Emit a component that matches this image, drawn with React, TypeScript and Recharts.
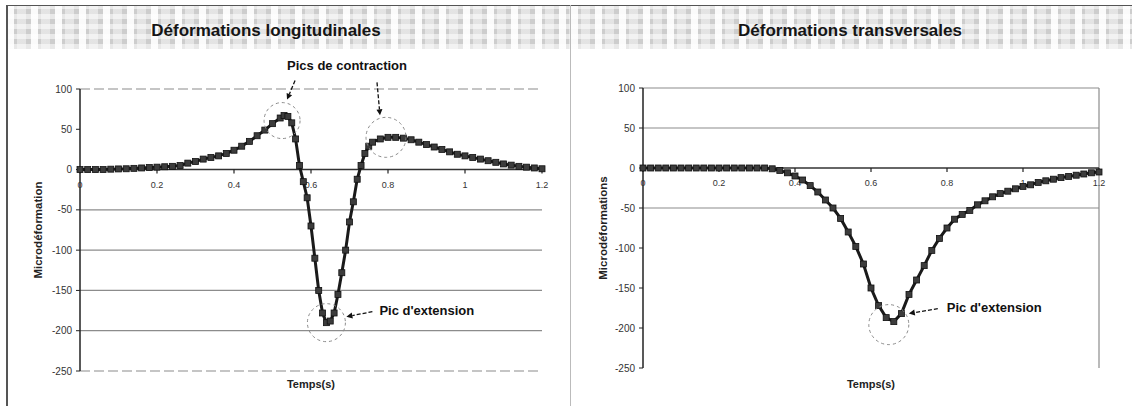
import React from 'react';
import { LineChart, Line, XAxis, YAxis, ReferenceLine, ReferenceDot } from 'recharts';

// ---------- data ----------
const timeLong = [0, 0.02, 0.04, 0.06, 0.08, 0.1, 0.12, 0.14, 0.16, 0.18, 0.2, 0.22, 0.24, 0.26, 0.28, 0.3, 0.32, 0.34, 0.36, 0.38, 0.4, 0.42, 0.44, 0.46, 0.48, 0.5, 0.52, 0.53, 0.54, 0.55, 0.56, 0.57, 0.58, 0.59, 0.6, 0.61, 0.62, 0.63, 0.64, 0.65, 0.66, 0.67, 0.68, 0.69, 0.7, 0.71, 0.72, 0.73, 0.74, 0.75, 0.76, 0.78, 0.8, 0.82, 0.84, 0.86, 0.88, 0.9, 0.92, 0.94, 0.96, 0.98, 1.0, 1.02, 1.04, 1.06, 1.08, 1.1, 1.12, 1.14, 1.16, 1.18, 1.2];
const valLong = [0, 0, 0, 0, 0.5, 0.8, 1, 1.5, 2, 2.5, 3, 3.5, 4, 5, 8, 10, 13, 15, 17, 20, 24, 29, 35, 42, 49, 57, 64, 67, 66, 58, 38, 5, -15, -35, -70, -110, -150, -178, -190, -188, -178, -155, -128, -100, -65, -40, -12, 5, 20, 29, 34, 38, 40, 40, 39, 37, 34, 31, 28, 25, 22, 19, 17, 15, 13, 11, 9, 7, 5.5, 4, 3, 2, 1];

const timeTrans = [0, 0.02, 0.04, 0.06, 0.08, 0.1, 0.12, 0.14, 0.16, 0.18, 0.2, 0.22, 0.24, 0.26, 0.28, 0.3, 0.32, 0.34, 0.36, 0.38, 0.4, 0.42, 0.44, 0.46, 0.48, 0.5, 0.52, 0.54, 0.56, 0.58, 0.6, 0.62, 0.64, 0.66, 0.68, 0.7, 0.72, 0.74, 0.76, 0.78, 0.8, 0.82, 0.84, 0.86, 0.88, 0.9, 0.92, 0.94, 0.96, 0.98, 1.0, 1.02, 1.04, 1.06, 1.08, 1.1, 1.12, 1.14, 1.16, 1.18, 1.2];
const valTrans = [0, 0, 0, 0, 0, 0, 0, 0, 0, 0, 0, 0, 0, 0, 0, 0, 0, -1, -3, -6, -10, -15, -22, -30, -40, -50, -63, -80, -98, -120, -150, -172, -187, -192, -182, -158, -140, -122, -103, -88, -75, -64, -58, -53, -46, -41, -36, -32, -29, -26, -23, -21, -18, -16, -14, -12, -10.5, -9, -7.5, -6, -5];

const xTicks = [0, 0.2, 0.4, 0.6, 0.8, 1, 1.2];
const xTickLabels = ['0', '0.2', '0.4', '0.6', '0.8', '1', '1.2'];
const yTicks = [100, 50, 0, -50, -100, -150, -200, -250];
const gridLongSolid = [-50, -100, -150, -200];
const gridLongDashed = [100, -250];
const gridTrans = [100, 50, -50];

const titleLong = 'Déformations longitudinales';
const titleTrans = 'Déformations transversales';
const yLabelLong = 'Microdéformation';
const yLabelTrans = 'Microdéformations';
const xLabel = 'Temps(s)';
const noteContraction = 'Pics de contraction';
const noteExtension = "Pic d'extension";

const FONT = 'Arial, "Liberation Sans", sans-serif';

const longData = timeLong.map((t, i) => ({ t, v: valLong[i] }));
const transData = timeTrans.map((t, i) => ({ t, v: valTrans[i] }));

const idxMax = (arr: number[], from: number, to: number) => {
  let b = from;
  for (let i = from; i < to; i++) if (arr[i] > arr[b]) b = i;
  return b;
};
const idxMin = (arr: number[]) => {
  let b = 0;
  for (let i = 0; i < arr.length; i++) if (arr[i] < arr[b]) b = i;
  return b;
};
const midLong = timeLong.indexOf(0.6);
const p1 = idxMax(valLong, 0, midLong);
const p2 = idxMax(valLong, midLong, valLong.length);
const mL = idxMin(valLong);
const mT = idxMin(valTrans);

// ---------- helpers ----------
const SquareDot = (props: any) => {
  const { cx, cy } = props;
  if (cx == null || cy == null) return null;
  return <rect x={cx - 3} y={cy - 3} width={6} height={6} fill="#3c3c3c" stroke="#111" strokeWidth={0.8} />;
};

const Arrow = ({ x1, y1, x2, y2 }: { x1: number; y1: number; x2: number; y2: number }) => {
  const a = Math.atan2(y2 - y1, x2 - x1);
  const L = 6, W = 3;
  const bx = x2 - L * Math.cos(a), by = y2 - L * Math.sin(a);
  const p = `${x2},${y2} ${bx + W * Math.sin(a)},${by - W * Math.cos(a)} ${bx - W * Math.sin(a)},${by + W * Math.cos(a)}`;
  return (
    <g>
      <line x1={x1} y1={y1} x2={bx} y2={by} stroke="#111" strokeWidth={1.3} strokeDasharray="4 2" />
      <polygon points={p} fill="#111" />
    </g>
  );
};

const DashCircle = ({ cx, cy, r }: { cx: number; cy: number; r: number }) => (
  <circle cx={cx} cy={cy} r={r} fill="none" stroke="#8a8a8a" strokeWidth={1} strokeDasharray="3 3" />
);

const tickShape = (label: string) => (props: any) => {
  const { cx, cy } = props;
  return (
    <g>
      <line x1={cx} y1={cy} x2={cx} y2={cy + 4} stroke="#222" strokeWidth={1.2} />
      <text x={cx} y={cy + 18} textAnchor="middle" fontSize={9} fontFamily={FONT} fill="#333">{label}</text>
    </g>
  );
};

const annoText = (x: number, y: number, s: string, anchor: string = 'start') => (
  <text x={x} y={y} textAnchor={anchor as any} dominantBaseline="middle" fontSize={13} fontWeight="bold" fontFamily={FONT} fill="#111">{s}</text>
);

const peak1Shape = (props: any) => {
  const { cx, cy } = props;
  return (
    <g>
      <DashCircle cx={cx - 2} cy={cy + 5} r={18} />
      <Arrow x1={cx + 11} y1={cy - 35} x2={cx + 3} y2={cy - 16} />
      {annoText(cx + 63, cy - 49, noteContraction, 'middle')}
    </g>
  );
};
const peak2Shape = (props: any) => {
  const { cx, cy } = props;
  return (
    <g>
      <DashCircle cx={cx - 2} cy={cy} r={20} />
      <Arrow x1={cx - 11} y1={cy - 55} x2={cx - 8} y2={cy - 22} />
    </g>
  );
};
const minShape = (props: any) => {
  const { cx, cy } = props;
  return (
    <g>
      <DashCircle cx={cx} cy={cy} r={19} />
      <Arrow x1={cx + 46} y1={cy - 11} x2={cx + 20} y2={cy - 6} />
      {annoText(cx + 53, cy - 11, noteExtension)}
    </g>
  );
};
const minShapeT = (props: any) => {
  const { cx, cy } = props;
  return (
    <g>
      <DashCircle cx={cx - 5} cy={cy + 3} r={20} />
      <Arrow x1={cx + 44} y1={cy - 13} x2={cx + 15} y2={cy - 8} />
      {annoText(cx + 53, cy - 13, noteExtension)}
    </g>
  );
};

const TitleBar = ({ left, width, center, text }: { left: number; width: number; center: number; text: string }) => (
  <div
    style={{
      position: 'absolute', left, top: 5, width, height: 43,
      backgroundColor: '#cdcdcd',
      backgroundImage:
        'repeating-linear-gradient(90deg, rgba(255,255,255,0.9) 0px, rgba(255,255,255,0.9) 7px, rgba(0,0,0,0) 7px, rgba(0,0,0,0) 10px, rgba(255,255,255,0.45) 10px, rgba(255,255,255,0.45) 19px, rgba(0,0,0,0) 19px, rgba(0,0,0,0) 24px),' +
        'repeating-linear-gradient(0deg, rgba(255,255,255,0.55) 0px, rgba(255,255,255,0.55) 5px, rgba(0,0,0,0) 5px, rgba(0,0,0,0) 10px)',
      borderTop: '1px solid #555',
    }}
  >
    <div
      style={{
        position: 'absolute', left: center - left - 200, width: 400, top: 0, height: 43,
        lineHeight: '50px', textAlign: 'center', fontFamily: FONT, fontWeight: 'bold', fontSize: 17, color: '#151515',
      }}
    >
      {text}
    </div>
  </div>
);

const yTick = { fontSize: 10, fill: '#333', fontFamily: FONT };

export default function App() {
  return (
    <div style={{ position: 'absolute', left: 0, top: 0, width: 1132, height: 406, background: '#fff', overflow: 'hidden' }}>
      <TitleBar left={7} width={563} center={266} text={titleLong} />
      <TitleBar left={571} width={561} center={850} text={titleTrans} />
      <div style={{ position: 'absolute', left: 6, top: 5, width: 2, height: 401, background: '#555' }} />
      <div style={{ position: 'absolute', left: 570, top: 5, width: 1, height: 401, background: '#bbb' }} />

      {/* Left chart */}
      <div style={{ position: 'absolute', left: 0, top: 48 }}>
        <LineChart width={570} height={358} data={longData} margin={{ top: 41, right: 28, bottom: 0, left: 0 }}>
          <XAxis
            type="number" dataKey="t" domain={[0, 1.2]} ticks={xTicks}
            axisLine={false} tickLine={false} tick={false} height={35}
            label={{ value: xLabel, position: 'insideTop', offset: 9, fontSize: 11, fontWeight: 'bold', fill: '#222', fontFamily: FONT }}
          />
          <YAxis
            type="number" domain={[-250, 100]} ticks={yTicks} interval={0} width={80}
            axisLine={{ stroke: '#222', strokeWidth: 1.5 }} tickLine={{ stroke: '#222' }} tickSize={4} tickMargin={4}
            tick={yTick}
            label={{ value: yLabelLong, angle: -90, position: 'center', dx: -2, fontSize: 11.5, fontWeight: 'bold', fill: '#222', fontFamily: FONT }}
          />
          {gridLongSolid.map((g) => (
            <ReferenceLine key={g} y={g} stroke="#8c8c8c" strokeWidth={1.2} />
          ))}
          {gridLongDashed.map((g) => (
            <ReferenceLine key={g} y={g} stroke="#8c8c8c" strokeWidth={1.2} strokeDasharray="10 4" />
          ))}
          <ReferenceLine y={0} stroke="#333" strokeWidth={1.5} />
          {xTicks.map((t, i) => (
            <ReferenceDot key={t} x={t} y={0} r={0} ifOverflow="visible" shape={tickShape(xTickLabels[i])} />
          ))}
          <Line type="linear" dataKey="v" stroke="#1a1a1a" strokeWidth={3} dot={<SquareDot />} isAnimationActive={false} />
          <ReferenceDot x={timeLong[p1]} y={valLong[p1]} ifOverflow="visible" shape={peak1Shape} />
          <ReferenceDot x={timeLong[p2]} y={valLong[p2]} ifOverflow="visible" shape={peak2Shape} />
          <ReferenceDot x={timeLong[mL]} y={valLong[mL]} ifOverflow="visible" shape={minShape} />
        </LineChart>
      </div>

      {/* Right chart */}
      <div style={{ position: 'absolute', left: 570, top: 48 }}>
        <LineChart width={562} height={358} data={transData} margin={{ top: 40, right: 33, bottom: 0, left: 0 }}>
          <XAxis
            type="number" dataKey="t" domain={[0, 1.2]} ticks={xTicks}
            axisLine={false} tickLine={false} tick={false} height={38}
            label={{ value: xLabel, position: 'insideTop', offset: 12, fontSize: 11, fontWeight: 'bold', fill: '#222', fontFamily: FONT }}
          />
          <YAxis
            type="number" domain={[-250, 100]} ticks={yTicks} interval={0} width={73}
            axisLine={{ stroke: '#222', strokeWidth: 1.5 }} tickLine={{ stroke: '#222' }} tickSize={4} tickMargin={4}
            tick={yTick}
            label={{ value: yLabelTrans, angle: -90, position: 'center', dx: -4, fontSize: 11.5, fontWeight: 'bold', fill: '#222', fontFamily: FONT }}
          />
          {gridTrans.map((g) => (
            <ReferenceLine key={g} y={g} stroke="#8c8c8c" strokeWidth={1.2} />
          ))}
          <ReferenceLine x={1.2} stroke="#8c8c8c" strokeWidth={1.2} />
          <ReferenceLine y={0} stroke="#333" strokeWidth={1.5} />
          {xTicks.map((t, i) => (
            <ReferenceDot key={t} x={t} y={0} r={0} ifOverflow="visible" shape={tickShape(xTickLabels[i])} />
          ))}
          <Line type="linear" dataKey="v" stroke="#1a1a1a" strokeWidth={3} dot={<SquareDot />} isAnimationActive={false} />
          <ReferenceDot x={timeTrans[mT]} y={valTrans[mT]} ifOverflow="visible" shape={minShapeT} />
        </LineChart>
      </div>
    </div>
  );
}
